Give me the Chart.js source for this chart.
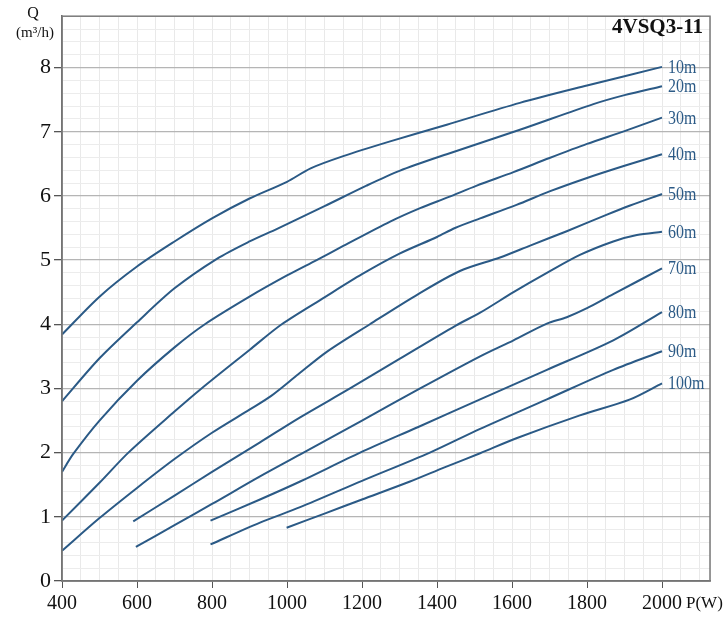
<!DOCTYPE html>
<html>
<head>
<meta charset="utf-8">
<script src="https://cdn.jsdelivr.net/npm/chart.js@4.4.1/dist/chart.umd.min.js"></script>
<style>
  body { margin: 0; background: #fff; }
  canvas { display: block; }
</style>
</head>
<body>
<canvas id="chart" width="725" height="619"></canvas>
<script>
// pump curves 4VSQ3-11: power P(W) vs flow Q(m3/h) for each head
const heads = ['10m', '20m', '30m', '40m', '50m', '60m', '70m', '80m', '90m', '100m'];

const p10 = [400, 500, 600, 700, 800, 900, 1000, 1063, 1150, 1275, 1426, 1621, 1800, 2000];
const q10 = [3.84, 4.43, 4.90, 5.29, 5.65, 5.96, 6.22, 6.43, 6.62, 6.85, 7.11, 7.45, 7.72, 8.01];

const p20 = [400, 500, 600, 700, 813, 900, 975, 1100, 1212, 1300, 1426, 1621, 1817, 1900, 2000];
const q20 = [2.80, 3.47, 4.03, 4.56, 5.02, 5.29, 5.49, 5.84, 6.16, 6.39, 6.65, 7.03, 7.43, 7.57, 7.71];

const p30 = [400, 430, 500, 600, 700, 781, 900, 1000, 1079, 1150, 1275, 1355, 1430, 1506, 1604, 1700, 1800, 1900, 2000];
const q30 = [1.70, 1.98, 2.50, 3.12, 3.64, 4.00, 4.43, 4.76, 5.00, 5.22, 5.60, 5.81, 5.98, 6.16, 6.37, 6.59, 6.81, 7.01, 7.22];

const p40 = [400, 500, 577, 700, 772, 900, 986, 1100, 1200, 1300, 1400, 1448, 1515, 1612, 1700, 1800, 1900, 2000];
const q40 = [0.94, 1.53, 2.00, 2.64, 3.00, 3.60, 4.00, 4.42, 4.78, 5.10, 5.36, 5.50, 5.65, 5.86, 6.07, 6.28, 6.47, 6.65];

const p50 = [400, 500, 600, 700, 800, 900, 957, 1030, 1106, 1221, 1350, 1461, 1568, 1650, 1746, 1850, 1915, 2000];
const q50 = [0.47, 0.98, 1.45, 1.90, 2.31, 2.67, 2.88, 3.22, 3.57, 4.00, 4.47, 4.83, 5.04, 5.23, 5.45, 5.70, 5.85, 6.03];

const p60 = [590, 700, 800, 928, 1035, 1168, 1300, 1450, 1515, 1604, 1693, 1781, 1870, 1933, 2000];
const q60 = [0.93, 1.33, 1.70, 2.16, 2.55, 3.00, 3.46, 3.98, 4.18, 4.50, 4.80, 5.08, 5.29, 5.39, 5.44];

const p70 = [597, 700, 800, 928, 1044, 1200, 1355, 1515, 1604, 1693, 1746, 1800, 1870, 2000];
const q70 = [0.53, 0.87, 1.20, 1.63, 2.00, 2.50, 3.00, 3.50, 3.75, 4.01, 4.11, 4.25, 4.47, 4.87];

const p80 = [796, 928, 1035, 1195, 1350, 1515, 1693, 1870, 2000];
const q80 = [0.94, 1.27, 1.55, 2.00, 2.40, 2.83, 3.29, 3.75, 4.19];

const p90 = [796, 928, 1035, 1200, 1381, 1515, 1693, 1870, 2000];
const q90 = [0.57, 0.91, 1.15, 1.56, 2.00, 2.37, 2.83, 3.29, 3.58];

const p100 = [999, 1100, 1200, 1328, 1420, 1515, 1610, 1781, 1915, 2000];
const q100 = [0.83, 1.05, 1.27, 1.55, 1.77, 1.99, 2.22, 2.58, 2.83, 3.08];

const powers = [p10, p20, p30, p40, p50, p60, p70, p80, p90, p100];
const flows = [q10, q20, q30, q40, q50, q60, q70, q80, q90, q100];

const xMin = 400, xMax = 2128, yMin = 0, yMax = 8.8;
const lineColor = '#2b5a86';
const serif = "'Liberation Serif', 'Times New Roman', serif";

const isInt = v => Math.abs(v - Math.round(v)) < 1e-6;

const datasets = heads.map((h, i) => ({
  label: h,
  data: powers[i].map((p, j) => ({ x: p, y: flows[i][j] })),
  borderColor: lineColor,
  borderWidth: 2,
  pointRadius: 0,
  fill: false,
  tension: 0.3
}));

// texts around the plot: frame, axis titles, model name, head labels
const extras = {
  id: 'extras',
  afterDraw(chart) {
    const ctx = chart.ctx;
    const a = chart.chartArea;
    ctx.save();
    ctx.strokeStyle = '#7a7a7a';
    ctx.lineWidth = 1.5;
    ctx.strokeRect(a.left, a.top, a.right - a.left, a.bottom - a.top);

    ctx.fillStyle = '#111';
    ctx.textAlign = 'center';
    ctx.textBaseline = 'middle';
    ctx.font = '16px ' + serif;
    ctx.fillText('Q', 33, 14);
    ctx.font = '15px ' + serif;
    ctx.fillText('(m³/h)', 35, 33);

    ctx.textAlign = 'left';
    ctx.font = '17px ' + serif;
    ctx.fillText('P(W)', 686, 604);

    ctx.textAlign = 'right';
    ctx.font = 'bold 21px ' + serif;
    ctx.fillText('4VSQ3-11', 703, 28);

    ctx.fillStyle = lineColor;
    ctx.textAlign = 'left';
    ctx.font = '19px ' + serif;
    chart.data.datasets.forEach((ds, i) => {
      const pts = chart.getDatasetMeta(i).data;
      const last = pts[pts.length - 1];
      ctx.save();
      ctx.translate(last.x + 6, last.y + 1);
      ctx.scale(0.84, 1);
      ctx.fillText(ds.label, 0, 0);
      ctx.restore();
    });
    ctx.restore();
  }
};

function stepTicks(min, max, step) {
  const out = [];
  for (let v = min; v <= max + 1e-9; v += step) out.push({ value: Math.round(v * 1000) / 1000 });
  return out;
}

new Chart(document.getElementById('chart'), {
  type: 'line',
  data: { datasets },
  options: {
    responsive: false,
    animation: false,
    devicePixelRatio: 1,
    layout: { padding: { top: 7, right: 15, left: 0, bottom: 0 } },
    plugins: { legend: { display: false }, tooltip: { enabled: false } },
    scales: {
      x: {
        type: 'linear',
        min: xMin,
        max: xMax,
        afterBuildTicks: s => { s.ticks = stepTicks(xMin, 2100, 50).concat([{ value: xMax }]); },
        afterFit: s => { s.height = 38; },
        border: { display: true, color: '#666', width: 1.5 },
        grid: {
          color: '#e9e9e9',
          lineWidth: 1,
          tickLength: 7,
          tickColor: c => (c.tick && c.tick.value % 200 === 0 && c.tick.value <= 2000) ? '#555' : 'rgba(0,0,0,0)'
        },
        ticks: {
          autoSkip: false,
          maxRotation: 0,
          padding: 4,
          color: '#111',
          font: { family: serif, size: 20 },
          callback: v => (v % 200 === 0 && v <= 2000) ? String(v) : ''
        }
      },
      y: {
        type: 'linear',
        min: yMin,
        max: yMax,
        afterBuildTicks: s => { s.ticks = stepTicks(yMin, yMax, 0.2); },
        afterFit: s => { s.width = 62; },
        border: { display: true, color: '#666', width: 1.5 },
        grid: {
          color: c => (c.tick && isInt(c.tick.value)) ? '#b5b5b5' : '#ececec',
          lineWidth: c => (c.tick && isInt(c.tick.value)) ? 1.3 : 1,
          tickLength: 8,
          tickColor: c => (c.tick && isInt(c.tick.value)) ? '#555' : 'rgba(0,0,0,0)'
        },
        ticks: {
          autoSkip: false,
          padding: 3,
          color: '#111',
          font: { family: serif, size: 22 },
          callback: v => isInt(v) ? String(Math.round(v)) : ''
        }
      }
    }
  },
  plugins: [extras]
});
</script>
</body>
</html>
